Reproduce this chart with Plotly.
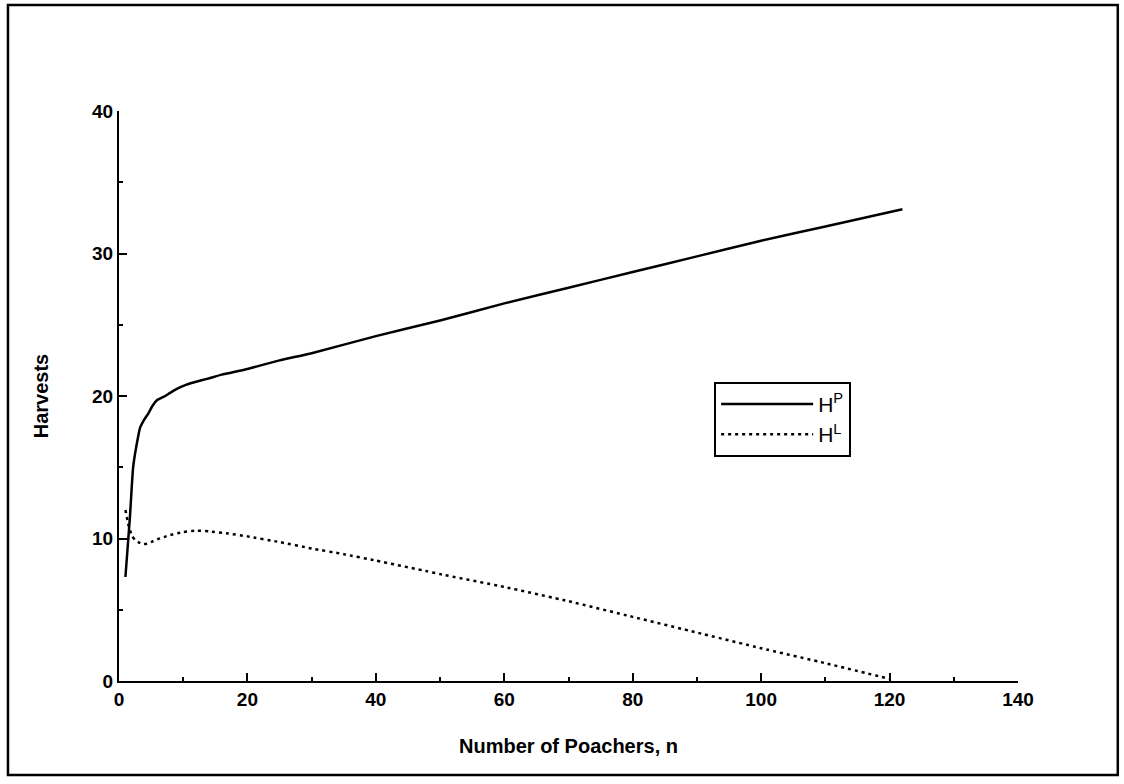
import plotly.graph_objects as go

# Harvest of poachers (H^P) and of the landowner (H^L) versus number of poachers n
n_p = [1, 1.7, 2.2, 3, 3.3, 4, 4.6, 5.2, 5.9, 7, 7.9, 9, 10.5, 12, 13.7, 16, 20, 25, 30, 40,
       50, 60, 70, 80, 90, 100, 110, 122]
h_p = [7.3, 11.5, 15.0, 17.2, 17.8, 18.4, 18.8, 19.3, 19.7, 19.95, 20.2, 20.5, 20.8, 21.0, 21.2,
       21.5, 21.9, 22.5, 23.0, 24.2, 25.3, 26.5, 27.6, 28.7, 29.8, 30.9, 31.9, 33.1]

n_l = [1, 1.5, 2, 2.5, 3, 3.7, 4.5, 5, 6, 7, 8, 10, 12, 14, 17, 20, 25, 30, 35, 40, 48,
       50, 60, 70, 80, 90, 100, 110, 120]
h_l = [12.0, 10.9, 10.2, 9.9, 9.75, 9.6, 9.65, 9.75, 9.95, 10.1, 10.25, 10.45, 10.55, 10.5,
       10.35, 10.15, 9.75, 9.3, 8.9, 8.45, 7.7, 7.5, 6.6, 5.6, 4.5, 3.4, 2.3, 1.25, 0.15]

x_ticks = [0, 20, 40, 60, 80, 100, 120, 140]
y_ticks = [0, 10, 20, 30, 40]

FONT = "Liberation Sans, Arial, sans-serif"

fig = go.Figure()
fig.add_trace(go.Scatter(x=n_p, y=h_p, mode="lines", name="H<sup>P</sup>",
                         line=dict(color="black", width=2.5, shape="spline", smoothing=0.4)))
fig.add_trace(go.Scatter(x=n_l, y=h_l, mode="lines", name="H<sup>L</sup>",
                         line=dict(color="black", width=2.5, dash="3px,4px",
                                   shape="spline", smoothing=0.4)))

axis_common = dict(
    showgrid=False, zeroline=False, showline=True, linecolor="black", linewidth=2,
    ticks="inside", ticklen=8, tickwidth=2, tickcolor="black",
    tickfont=dict(family=FONT, size=19, color="black", weight="bold"),
)

fig.update_xaxes(
    range=[0, 140], tickvals=x_ticks,
    minor=dict(ticks="inside", dtick=10, ticklen=4, tickwidth=1.5, tickcolor="black"),
    title=dict(text="Number of Poachers, n", standoff=30,
               font=dict(family=FONT, size=20, color="black", weight="bold")),
    **axis_common,
)
fig.update_yaxes(
    range=[0, 40], tickvals=y_ticks,
    minor=dict(ticks="inside", dtick=5, ticklen=4, tickwidth=1.5, tickcolor="black"),
    title=dict(text="Harvests", standoff=38,
               font=dict(family=FONT, size=20, color="black", weight="bold")),
    **axis_common,
)

# frame around the whole figure
fig.add_shape(type="rect", xref="paper", yref="paper",
              x0=-0.1235, x1=1.111, y0=-0.165, y1=1.186,
              line=dict(color="black", width=2.5), fillcolor="rgba(0,0,0,0)")

fig.update_layout(
    width=1124, height=784,
    margin=dict(l=119, r=106, t=111, b=103),
    paper_bgcolor="white", plot_bgcolor="white",
    showlegend=True,
    legend=dict(x=0.662, y=0.525, xanchor="left", yanchor="top",
                bordercolor="black", borderwidth=2, bgcolor="white",
                itemwidth=92, tracegroupgap=0,
                font=dict(family=FONT, size=21, color="black")),
)

fig.write_html("out.html")
